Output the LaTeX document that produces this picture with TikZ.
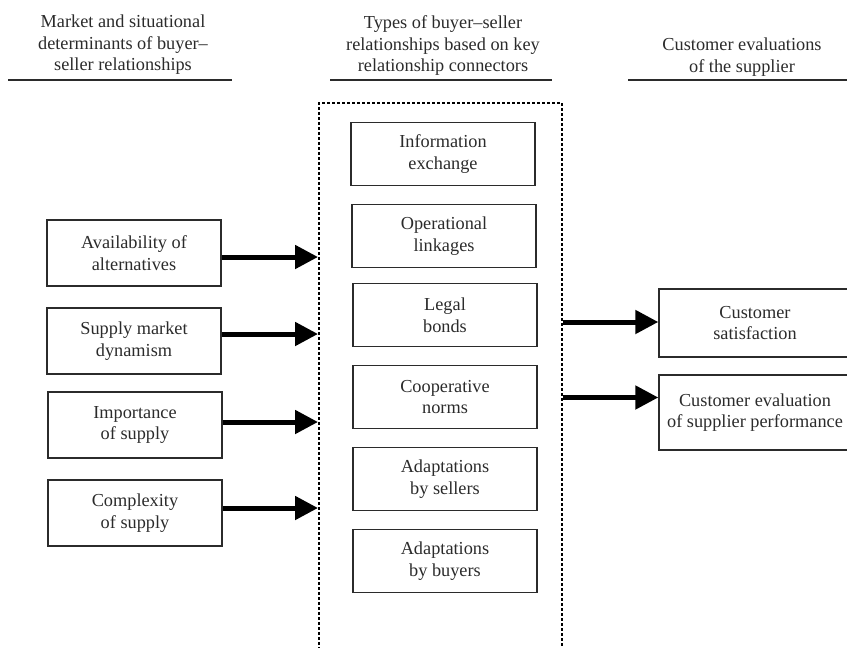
\documentclass[tikz,border=0pt]{standalone}
\usepackage{fontspec}
\setmainfont{Liberation Serif}
\usetikzlibrary{arrows.meta}
\definecolor{ink}{HTML}{2B2B2B}
\tikzset{
  txt/.style={font=\fontsize{18.3}{21.5}\selectfont, text=ink, align=center, inner sep=0pt},
  lbox/.style={txt, draw=ink, line width=1.4pt, minimum width=174pt, minimum height=66pt},
  mbox/.style={txt, draw=ink, line width=1.4pt, minimum width=184pt, minimum height=63pt},
  rbox/.style={txt, draw=ink, line width=1.4pt, minimum width=192pt},
  bigarrow/.style={draw=black, line width=5pt, -{Triangle[length=23pt,width=23pt]}},
  rule/.style={draw=ink, line width=1.6pt},
  dashbox/.style={draw=black, line width=1.8pt, dash pattern=on 3pt off 2pt, inner sep=0pt}
}
\begin{document}
\begin{tikzpicture}[x=1pt,y=-1pt]
\useasboundingbox (0,0) rectangle (847,648);
\clip (0,0) rectangle (847,648);
% headers
\node[txt] (h1) at (123,45) {Market and situational\\determinants of buyer–\\seller relationships};
\node[txt] (h2) at (443,46) {Types of buyer–seller\\relationships based on key\\relationship connectors};
\node[txt] (h3) at (742,57) {Customer evaluations\\of the supplier};
\draw[rule] (8,80) -- (232,80);
\draw[rule] (330,80) -- (552,80);
\draw[rule] (628,80) -- (850,80);
% dashed container
\node[dashbox, minimum width=243pt, minimum height=600pt, anchor=north west] (dash) at (318,102) {};
% left boxes
\node[lbox] (a1) at (134,253) {Availability of\\alternatives};
\node[lbox] (a2) at (134,341) {Supply market\\dynamism};
\node[lbox] (a3) at (135,425) {Importance\\of supply};
\node[lbox] (a4) at (135,513) {Complexity\\of supply};
% middle boxes
\node[mbox] (m1) at (443,154) {Information\\exchange};
\node[mbox] (m2) at (444,236) {Operational\\linkages};
\node[mbox] (m3) at (445,315) {Legal\\bonds};
\node[mbox] (m4) at (445,397) {Cooperative\\norms};
\node[mbox] (m5) at (445,479) {Adaptations\\by sellers};
\node[mbox] (m6) at (445,561) {Adaptations\\by buyers};
% right boxes
\node[rbox, minimum height=68pt] (c1) at (755,323) {Customer\\satisfaction};
\node[rbox, minimum height=75pt] (c2) at (755,412.5) {Customer evaluation\\of supplier performance};
% arrows into container
\draw[bigarrow] ([yshift=-4pt]a1.east) -- ([yshift=-4pt]a1.east -| dash.west);
\draw[bigarrow] ([yshift=7pt]a2.east) -- ([yshift=7pt]a2.east -| dash.west);
\draw[bigarrow] ([yshift=3pt]a3.east) -- ([yshift=3pt]a3.east -| dash.west);
\draw[bigarrow] ([yshift=5pt]a4.east) -- ([yshift=5pt]a4.east -| dash.west);
% arrows out of container
\draw[bigarrow] ([yshift=1pt]c1.west -| dash.east) -- ([yshift=1pt]c1.west);
\draw[bigarrow] ([yshift=15pt]c2.west -| dash.east) -- ([yshift=15pt]c2.west);
\end{tikzpicture}
\end{document}
